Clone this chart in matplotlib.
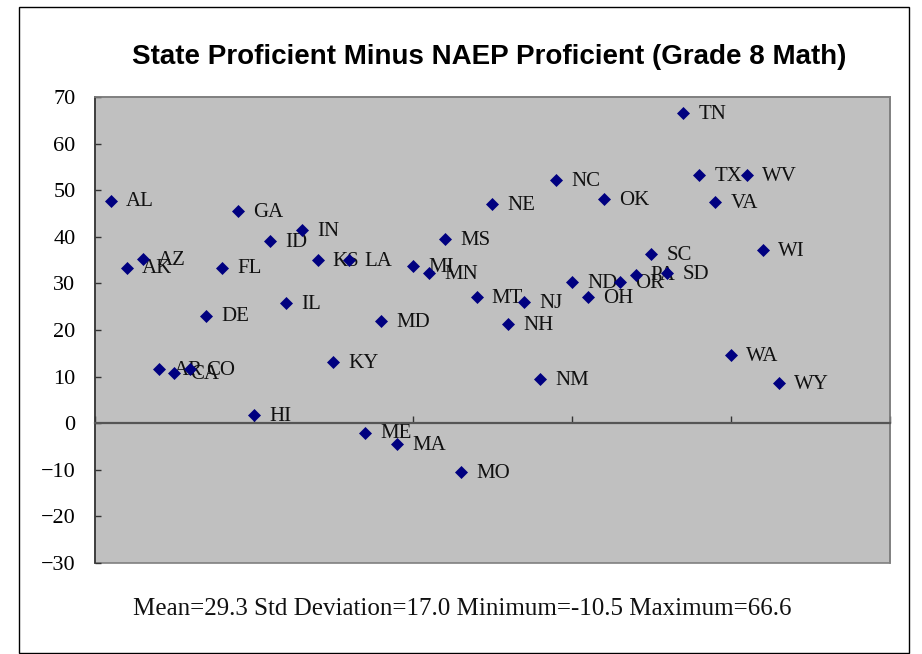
import matplotlib
matplotlib.use("Agg")
import matplotlib.pyplot as plt
from matplotlib.patches import Rectangle

# Datos: diferencia entre % proficient estatal y % proficient NAEP (8vo grado, matematica)
estados = ["AL", "AK", "AZ", "AR", "CA", "CO", "DE", "FL", "GA", "HI",
           "ID", "IL", "IN", "KS", "KY", "LA", "ME", "MD", "MA", "MI",
           "MN", "MS", "MO", "MT", "NE", "NH", "NJ", "NM", "NC", "ND",
           "OH", "OK", "OR", "PA", "SC", "SD", "TN", "TX", "VA", "WA",
           "WV", "WI", "WY"]
diferencias = [47.8, 33.4, 35.3, 11.7, 10.7, 11.7, 23.1, 33.4, 45.6, 1.8,
               39.1, 25.8, 41.4, 35.0, 13.2, 35.0, -2.0, 22.0, -4.4, 33.8,
               32.2, 39.5, -10.5, 27.0, 47.1, 21.3, 26.1, 9.4, 52.1, 30.3,
               27.0, 48.2, 30.3, 31.9, 36.4, 32.3, 66.6, 53.2, 47.4, 14.7,
               53.2, 37.1, 8.6]
posiciones = list(range(1, len(estados) + 1))

titulo = "State Proficient Minus NAEP Proficient (Grade 8 Math)"
resumen = "Mean=29.3 Std Deviation=17.0 Minimum=-10.5 Maximum=66.6"
y_ticks = [70, 60, 50, 40, 30, 20, 10, 0, -10, -20, -30]

fig = plt.figure(figsize=(9.22, 6.54), dpi=100)
fig.patch.set_facecolor("white")

# borde exterior del grafico (estilo Excel)
fig.patches.append(Rectangle((0.0206, 0.0015), 0.9653, 0.9878, transform=fig.transFigure,
                             fill=False, edgecolor="black", linewidth=1.0))

ax = fig.add_axes([0.1030, 0.1391, 0.8623, 0.7125])
ax.set_facecolor("#C0C0C0")
ax.patch.set_edgecolor("#808080")
ax.patch.set_linewidth(1.2)

# puntos y etiquetas
ax.scatter(posiciones, diferencias, marker="D", s=44, color="#000080", linewidths=0, zorder=3)
for x, y, nombre in zip(posiciones, diferencias, estados):
    ax.annotate(nombre, (x, y), xytext=(11, -1), textcoords="offset points",
                ha="left", va="center", fontsize=15, family="Liberation Serif",
                color="#111111", zorder=2)

ax.set_xlim(0, 50)
ax.set_ylim(-30, 70)
ax.set_yticks(y_ticks)
ax.set_xticks(range(0, 51, 10))
ax.set_xticklabels([])

# eje x cruzando en cero
ax.spines["bottom"].set_position(("data", 0))
ax.spines["bottom"].set_color("#555555")
ax.spines["bottom"].set_linewidth(1.6)
ax.spines["left"].set_color("#333333")
ax.spines["left"].set_linewidth(1.2)
ax.spines["top"].set_color("#808080")
ax.spines["right"].set_color("#808080")
ax.spines["top"].set_linewidth(1.2)
ax.spines["right"].set_linewidth(1.2)

ax.tick_params(axis="x", direction="in", length=5, width=1, color="#333333")
ax.tick_params(axis="y", direction="in", length=4.5, width=1, color="#333333",
               pad=14, labelsize=16)
for lbl in ax.get_yticklabels():
    lbl.set_family("Liberation Serif")

fig.text(0.531, 0.913, titulo, ha="center", va="center", fontsize=20,
         fontweight="bold", family="Liberation Sans")
fig.text(0.5016, 0.069, resumen, ha="center", va="center", fontsize=18,
         family="Liberation Serif", color="#111111")

fig.savefig("out.png", dpi=100)
